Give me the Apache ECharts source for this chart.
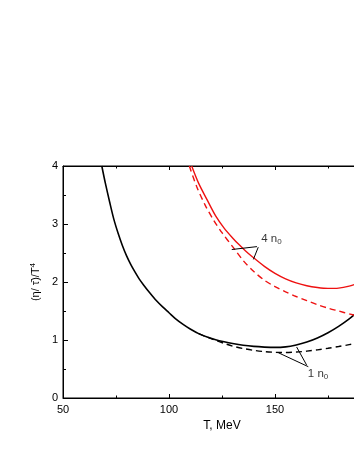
<!DOCTYPE html>
<html><head><meta charset="utf-8">
<script src="https://cdn.jsdelivr.net/npm/echarts@6/dist/echarts.min.js"></script>
<style>html,body{margin:0;padding:0;background:#fff;overflow:hidden;width:354px;height:458px}#c{width:400px;height:458px}</style>
</head><body><div id="c"></div>
<script>
// Data
const blackSolidT = [68.3,70,72,74,76,78,80,82,84,86,88,91,94,97,100,103,107,110,114,118,122,126,130,135,140,145,150,155,160,165,170,175,180,185,190];
const blackSolidV = [4.0,3.7,3.38,3.08,2.84,2.63,2.45,2.30,2.17,2.05,1.95,1.81,1.68,1.57,1.47,1.37,1.26,1.19,1.11,1.05,1.005,0.97,0.94,0.91,0.89,0.878,0.872,0.882,0.915,0.965,1.035,1.125,1.235,1.365,1.515];
const blackDashT = [114,118,122,126,130,135,140,145,150,155,160,165,170,175,180,185,190];
const blackDashV = [1.11,1.05,0.995,0.942,0.895,0.853,0.822,0.80,0.788,0.785,0.792,0.808,0.83,0.857,0.887,0.92,0.955];
const redSolidT = [110.7,114,117.8,122,126,130,133,136,139,145,150,155,160,165,170,175,180,185,190];
const redSolidV = [4.0,3.70,3.43,3.14,2.93,2.76,2.645,2.54,2.445,2.27,2.15,2.055,1.985,1.935,1.905,1.89,1.895,1.93,1.99];
const redDashT = [109.6,113,117,121,125,130,135,140,145,150,155,160,165,170,175,180,185,190];
const redDashV = [4.0,3.65,3.33,3.07,2.85,2.61,2.37,2.18,2.03,1.92,1.83,1.75,1.68,1.61,1.55,1.50,1.45,1.405];
const xTicks = [50,100,150,200];
const yTicks = [0,1,2,3,4];
const annot4 = {text:'4', arrows:[[[141.5,2.61],[129.6,2.56]],[[142.1,2.60],[139.8,2.39]]], label:[143.5,2.74]};
const annot1 = {text:'1', arrows:[[[165.7,0.54],[151.6,0.78]],[[164.9,0.57],[160.2,0.88]]], label:[165.5,0.41]};

const zip = (a,b)=>a.map((t,i)=>[t,b[i]]);
const font = '"Liberation Sans", Arial, sans-serif';
const chart = echarts.init(document.getElementById('c'), null, {renderer:'canvas'});

function annotSeries(a){
  return [{
    type:'line', data:[], silent:true,
    markLine:{
      silent:true, symbol:['none','arrow'], symbolSize:[0,8],
      label:{show:false},
      itemStyle:{color:'#000'},
      lineStyle:{color:'#000', width:1, type:'solid'},
      emphasis:{disabled:true},
      data:a.arrows.map(ar=>[{coord:ar[0]},{coord:ar[1]}])
    }
  },{
    type:'scatter', data:[a.label], symbolSize:0, silent:true,
    label:{show:true, position:'right', distance:0,
      formatter:'{m|'+a.text+' n}{s|0}',
      rich:{m:{fontFamily:font,fontSize:11.5,color:'#000'},s:{fontFamily:font,fontSize:8,color:'#000',verticalAlign:'bottom',padding:[6,0,0,0]}}}
  }];
}

const axisCommon = {
  type:'value', axisLine:{show:true,onZero:false,lineStyle:{color:'#000',width:1}},
  splitLine:{show:false}
};
chart.setOption({
  animation:false,
  grid:{left:63, top:166, right:19, bottom:60, containLabel:false, show:true, borderColor:'#000', borderWidth:1, backgroundColor:'transparent'},
  xAxis:[{
    ...axisCommon, position:'bottom', min:xTicks[0], max:xTicks[xTicks.length-1], interval:50,
    axisTick:{show:true, inside:true, length:4, lineStyle:{color:'#000'}},
    minorTick:{show:true, splitNumber:2, length:2.5, lineStyle:{color:'#000'}},
    axisLabel:{color:'#000', fontFamily:font, fontSize:11, margin:6},
    name:'T, MeV', nameLocation:'middle', nameGap:19,
    nameTextStyle:{color:'#000', fontFamily:font, fontSize:12}
  },{
    ...axisCommon, position:'top', min:xTicks[0], max:xTicks[xTicks.length-1], interval:50,
    axisTick:{show:true, inside:true, length:4, lineStyle:{color:'#000'}},
    minorTick:{show:true, splitNumber:2, length:2.5, lineStyle:{color:'#000'}},
    axisLabel:{show:false}
  }],
  yAxis:[{
    ...axisCommon, position:'left', min:yTicks[0], max:yTicks[yTicks.length-1], interval:1,
    axisTick:{show:true, inside:true, length:5, lineStyle:{color:'#000'}},
    minorTick:{show:true, splitNumber:2, length:3, lineStyle:{color:'#000'}},
    axisLabel:{color:'#000', fontFamily:font, fontSize:11, margin:5},
    name:'(η/ τ̄)/T{sup|4}', nameLocation:'middle', nameGap:20, nameRotate:90,
    nameTextStyle:{color:'#000', fontFamily:font, fontSize:11,
      rich:{sup:{fontFamily:font,fontSize:8,verticalAlign:'top',padding:[0,0,6,0]}}}
  },{
    ...axisCommon, position:'right', min:0, max:4, interval:1,
    axisTick:{show:true, inside:true, length:5}, axisLabel:{show:false}
  }],
  series:[
    {type:'line', data:zip(blackSolidT,blackSolidV), showSymbol:false, smooth:0.3,
     lineStyle:{color:'#000', width:1.6}},
    {type:'line', data:zip(blackDashT,blackDashV), showSymbol:false, smooth:0.3,
     lineStyle:{color:'#000', width:1.4, type:[6,4]}},
    {type:'line', data:zip(redSolidT,redSolidV), showSymbol:false, smooth:0.3,
     lineStyle:{color:'#ee1111', width:1.4}},
    {type:'line', data:zip(redDashT,redDashV), showSymbol:false, smooth:0.3,
     lineStyle:{color:'#ee1111', width:1.4, type:[6,4]}},
    ...annotSeries(annot4),
    ...annotSeries(annot1)
  ]
});
</script></body></html>
